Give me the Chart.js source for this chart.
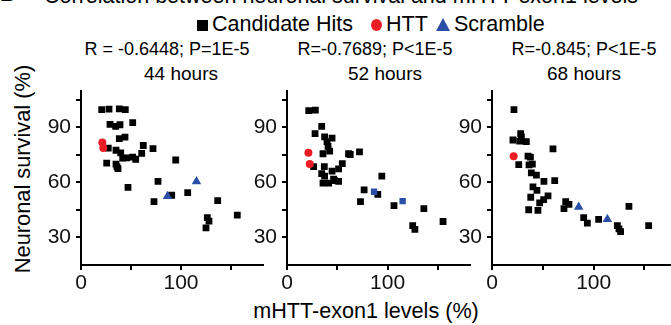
<!DOCTYPE html>
<html>
<head>
<meta charset="utf-8">
<script src="https://cdn.jsdelivr.net/npm/chart.js@4.4.1/dist/chart.umd.min.js"></script>
<style>
    html, body { margin: 0; padding: 0; background: #fff; overflow: hidden; }
    #figure { position: relative; width: 671px; height: 325px; overflow: hidden; font-family: "Liberation Sans", Arial, sans-serif; color: #000; }
    .panel { position: absolute; }
    .txt { position: absolute; white-space: nowrap; line-height: 1; }
    .mid { transform: translateX(-50%); }
</style>
</head>
<body>
<div id="figure">
    <div class="txt" style="left:0px; top:-17px; font-size:21px; font-weight:bold;">B</div>
    <div class="txt" style="left:44px; top:-14px; font-size:21.5px;">Correlation between neuronal survival and mHTT-exon1 levels</div>

    <!-- legend -->
    <div style="position:absolute; left:197px; top:20px; width:11px; height:11px; background:#000;"></div>
    <div class="txt" style="left:212px; top:13.5px; font-size:21.5px;">Candidate Hits</div>
    <div style="position:absolute; left:371px; top:19px; width:11px; height:12px; border-radius:50%; background:#ee1c25;"></div>
    <div class="txt" style="left:386px; top:13.5px; font-size:21.5px;">HTT</div>
    <div style="position:absolute; left:436px; top:18px; width:0; height:0; border-left:7px solid transparent; border-right:7px solid transparent; border-bottom:13px solid #2a4fa8;"></div>
    <div class="txt" style="left:454px; top:13.5px; font-size:21.5px;">Scramble</div>

    <!-- panel titles -->
    <div class="txt mid" style="left:167px; top:40px; font-size:18px;">R = -0.6448; P=1E-5</div>
    <div class="txt mid" style="left:181px; top:63.5px; font-size:19px;">44 hours</div>
    <div class="txt mid" style="left:375px; top:40px; font-size:18px;">R=-0.7689; P&lt;1E-5</div>
    <div class="txt mid" style="left:385px; top:63.5px; font-size:19px;">52 hours</div>
    <div class="txt mid" style="left:584px; top:40px; font-size:18px;">R=-0.845; P&lt;1E-5</div>
    <div class="txt mid" style="left:584px; top:63.5px; font-size:19px;">68 hours</div>

    <!-- axis titles -->
    <div class="txt" style="left:22.5px; top:169px; font-size:21.8px; transform:translate(-50%,-50%) rotate(-90deg);">Neuronal survival (%)</div>
    <div class="txt mid" style="left:366px; top:300px; font-size:21.6px;">mHTT-exon1 levels (%)</div>

    <div class="panel" style="left:21px; top:73px;"><canvas id="chart-44" width="252" height="237"></canvas></div>
    <div class="panel" style="left:227px; top:73px;"><canvas id="chart-52" width="253" height="237"></canvas></div>
    <div class="panel" style="left:432px; top:73px;"><canvas id="chart-68" width="255" height="237"></canvas></div>
</div>

<script>
// Data: 44 hours
var hits44X = [20.7, 28, 38.3, 44.3, 29, 34.7, 39, 51.7, 38.3, 44, 27.3, 35, 39.7, 62.3, 72, 60.7, 51.7, 54.7, 41.7, 45.7, 25.7, 35, 36, 37, 94.7, 77, 47, 73, 90.7, 106.7, 136.7, 126.3, 128, 125, 156.3];
var hits44Y = [99.6, 99.9, 100, 99.6, 91.6, 90.5, 91.4, 92.6, 83.8, 84.6, 78.7, 77.5, 76.1, 80.1, 78.4, 75.8, 73.8, 72.6, 73.2, 73.4, 70.5, 70, 68.5, 67.5, 72.2, 60.5, 57.3, 49.5, 53, 54.4, 50.1, 40.8, 38.9, 35.2, 42.2];
var htt44X = [21.3, 22.3];
var htt44Y = [81.7, 78.7];
var scr44X = [86.5, 115.5];
var scr44Y = [52.5, 60.5];

// Data: 52 hours
var hits52X = [21.6, 28.2, 34.5, 27.9, 37.4, 44.8, 39.8, 40.8, 42.4, 35.8, 61.2, 62.9, 72.1, 26.5, 37.1, 55, 51.3, 34.5, 37.4, 44.8, 35.8, 41.4, 46.3, 47.3, 51.3, 94.3, 76.7, 90.3, 73.1, 106.4, 136.1, 125, 127.2, 155.2];
var hits52Y = [99.1, 99.4, 90.5, 86.6, 84.8, 84.1, 82.2, 79.6, 77, 75.6, 75.6, 75.2, 76.6, 68.6, 68.6, 70.2, 67.4, 64.8, 63.4, 66.1, 59.6, 59.6, 61.7, 61, 60.5, 63.4, 55.9, 53.5, 49.5, 47.4, 45.7, 36.5, 34.4, 38.7];
var htt52X = [21.3, 22.6];
var htt52Y = [76.1, 70];
var scr52X = [86.6, 115];
var scr52Y = [54.9, 49.8];

// Data: 68 hours
var hits68X = [21.6, 28.2, 28.9, 20.6, 27.2, 33.8, 60, 35.4, 37.8, 26.3, 36.4, 39.7, 38.7, 43.7, 51.1, 61.7, 40.3, 44.2, 38.1, 55.1, 50.8, 46.9, 36.1, 45.2, 72.5, 75.7, 70.8, 90.2, 93.8, 104.9, 134.7, 123.3, 124.9, 126.5, 154.1];
var hits68Y = [99.6, 86.6, 84.8, 83.1, 82.5, 82.2, 78.2, 74.3, 73.8, 69.7, 69.5, 70, 65.2, 63.9, 60.5, 61, 57.5, 55.6, 51.9, 52.6, 50.6, 48.8, 45.1, 44.8, 49.5, 48, 45.7, 40.8, 37.8, 39.9, 46.9, 36.5, 34.7, 33.2, 36.5];
var htt68X = [21.3];
var htt68Y = [74.3];
var scr68X = [85.3, 113.5];
var scr68Y = [46.6, 39.9];

// Axis ticks
var xTicks = [0, 50, 100, 150];
var xLabels = [0, 100];
var yTicks = [30, 45, 60, 75, 90, 105];
var yLabels = [30, 60, 90];

// Init
var app = app || {};
app.figure = {};
app.figure.chart = {};

/**
 * Pair x and y lists into points
 *
 * @param {*} xs
 * @param {*} ys
 */
app.figure.toPoints = function (xs, ys) {
    return xs.map(function (x, i) {
        return { x: x, y: ys[i] };
    });
};

/**
 * Axis options shared by both scales
 *
 * @param {*} ticks
 * @param {*} labels
 * @param {*} min
 * @param {*} max
 * @param {*} size
 */
app.figure.axis = function (ticks, labels, min, max, size, pad) {
    return {
        type: 'linear',
        min: min,
        max: max,
        afterBuildTicks: function (scale) {
            scale.ticks = ticks.map(function (v) { return { value: v }; });
        },
        afterFit: function (scale) {
            if (scale.isHorizontal())
                scale.height = size;
            else
                scale.width = size;
        },
        ticks: {
            autoSkip: false,
            maxRotation: 0,
            padding: pad,
            color: '#111',
            font: { family: 'Liberation Sans', size: 21 },
            callback: function (value) {
                return labels.indexOf(value) >= 0 ? String(value) : '';
            }
        },
        grid: {
            display: true,
            drawOnChartArea: false,
            drawTicks: true,
            tickLength: 5,
            tickWidth: 2,
            tickColor: '#000',
            lineWidth: 2,
            color: '#000'
        },
        border: {
            display: true,
            color: '#000',
            width: 2
        }
    };
};

/**
 * Draw one panel
 *
 * @param {*} id
 * @param {*} hits
 * @param {*} htt
 * @param {*} scr
 * @param {*} scrStyle
 */
app.figure.drawPanel = function (id, hits, htt, scr, scrStyle) {
    app.figure.chart[id] = new Chart(document.getElementById(id).getContext('2d'), {
        type: 'scatter',
        data: {
            datasets: [{
                label: 'Scramble',
                data: scr,
                pointStyle: scrStyle,
                pointRadius: scrStyle === 'triangle' ? 5.5 : 4.5,
                backgroundColor: '#2a4fa8',
                borderWidth: 0
            }, {
                label: 'HTT',
                data: htt,
                pointStyle: 'circle',
                pointRadius: 4,
                backgroundColor: '#ee1c25',
                borderWidth: 0
            }, {
                label: 'Candidate Hits',
                data: hits,
                pointStyle: 'rect',
                pointRadius: 4.8,
                backgroundColor: '#000',
                borderWidth: 0
            }]
        },
        options: {
            responsive: false,
            animation: false,
            devicePixelRatio: 1,
            events: [],
            layout: {
                padding: { top: 10, right: 10, left: 0, bottom: 0 }
            },
            plugins: {
                legend: { display: false },
                tooltip: { enabled: false }
            },
            scales: {
                x: app.figure.axis(xTicks, xLabels, 0, 182, 45, 1),
                y: app.figure.axis(yTicks, yLabels, 15, 110, 60, 5)
            }
        }
    });
};

// Draw panels
app.figure.drawPanel('chart-44', app.figure.toPoints(hits44X, hits44Y), app.figure.toPoints(htt44X, htt44Y), app.figure.toPoints(scr44X, scr44Y), 'triangle');
app.figure.drawPanel('chart-52', app.figure.toPoints(hits52X, hits52Y), app.figure.toPoints(htt52X, htt52Y), app.figure.toPoints(scr52X, scr52Y), 'rect');
app.figure.drawPanel('chart-68', app.figure.toPoints(hits68X, hits68Y), app.figure.toPoints(htt68X, htt68Y), app.figure.toPoints(scr68X, scr68Y), 'triangle');
</script>
</body>
</html>
